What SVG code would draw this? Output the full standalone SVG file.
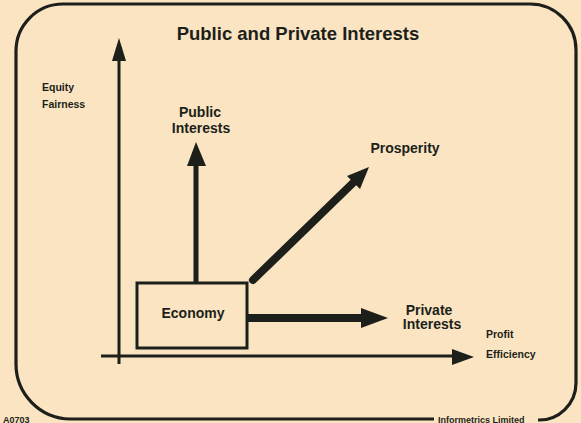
<svg xmlns="http://www.w3.org/2000/svg" width="581" height="423" viewBox="0 0 581 423">
<style>
  .ink { fill: #1d1f1a; }
  .line { stroke: #1d1f1a; fill: none; }
  text { font-family: "Liberation Sans", Arial, sans-serif; font-weight: bold; fill: #1d1f1a; }
  .lbl { font-size: 14px; text-anchor: middle; }
  .small { font-size: 10.5px; }
  .foot { font-size: 9px; }
</style>
<rect x="0" y="0" width="581" height="423" fill="#fae4c1"/>
<g id="frame">
  <path class="line" stroke-width="3.2" d="M 434 419 H 70 A 55 55 0 0 1 16 364 V 51 A 47 47 0 0 1 63 4 H 530 A 46 46 0 0 1 576 50 V 383 A 37 37 0 0 1 538 420"/>
</g>
<text x="298" y="40" font-size="18.5" text-anchor="middle">Public and Private Interests</text>
<g id="axes">
  <line class="line" stroke-width="3" x1="119" y1="58" x2="119" y2="364"/>
  <polygon class="ink" points="119,38 112,61 126,61"/>
  <line class="line" stroke-width="3" x1="101" y1="356" x2="456" y2="356"/>
  <polygon class="ink" points="474,357 452,349 452,365"/>
</g>
<g id="axis-labels">
  <text class="small" x="42" y="91">Equity</text>
  <text class="small" x="42" y="108">Fairness</text>
  <text class="small" x="486" y="338">Profit</text>
  <text class="small" x="486" y="358">Efficiency</text>
</g>
<g id="economy">
  <rect class="line" stroke-width="3" x="137" y="283" width="110" height="65"/>
  <text class="lbl" x="193" y="318">Economy</text>
</g>
<g id="public">
  <text class="lbl" x="200" y="117">Public</text>
  <text class="lbl" x="201" y="133">Interests</text>
</g>
<g id="prosperity">
  <text class="lbl" x="405" y="153">Prosperity</text>
</g>
<g id="private">
  <text class="lbl" x="429" y="314.5" font-size="13.5">Private</text>
  <text class="lbl" x="432" y="329" font-size="13.5">Interests</text>
</g>
<g id="connectors">
  <line class="line" stroke-width="5" x1="196" y1="283" x2="196" y2="162"/>
  <polygon class="ink" points="196,142 187,166 206,166"/>
  <line class="line" stroke-width="8" stroke-linecap="round" x1="253" y1="280" x2="356" y2="180"/>
  <polygon class="ink" points="369,167 360,189 347,176"/>
  <line class="line" stroke-width="8" x1="248" y1="318" x2="364" y2="318"/>
  <polygon class="ink" points="388,318 361,308 361,328"/>
</g>
<text class="foot" x="3" y="422.5">A0703</text>
<text class="foot" x="438" y="422.5">Informetrics  Limited</text>
</svg>
